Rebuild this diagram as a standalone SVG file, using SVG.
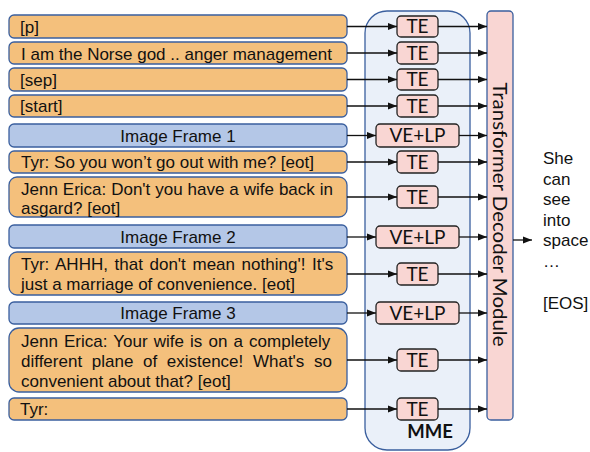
<svg xmlns="http://www.w3.org/2000/svg" width="590" height="452" viewBox="0 0 590 452">
<defs>
<style>
.o{fill:#F4C07C;stroke:#3A5F9E;stroke-width:1.3}
.b{fill:#B4C7E7;stroke:#3A5F9E;stroke-width:1.3}
.e{fill:#F9D6D3;stroke:#222;stroke-width:1.3}
.t{font-family:"Liberation Sans",Arial,sans-serif;font-size:17px;fill:#111}
.c{font-family:Lato,"Open Sans",sans-serif;font-size:19px;fill:#111;text-anchor:middle}
.l{stroke:#111;stroke-width:1.3;fill:none;marker-end:url(#ah)}
</style>
<marker id="ah" markerWidth="9" markerHeight="8" refX="9" refY="4" orient="auto" markerUnits="userSpaceOnUse">
<path d="M0,0.5 L9,4 L0,7.5 Z" fill="#111"/>
</marker>
</defs>
<rect width="590" height="452" fill="#fff"/>

<g id="mme">
<rect x="365" y="11" width="105" height="439" rx="22" fill="#EAF0F9" stroke="#3A5F9E" stroke-width="1.3"/>
<text x="430" y="438" font-family="Lato,'Open Sans',sans-serif" font-weight="bold" font-size="18.5" fill="#111" text-anchor="middle">MME</text>
</g>

<g id="decoder">
<rect x="487" y="11" width="26" height="409" rx="4" fill="#F9D6D3" stroke="#3A5F9E" stroke-width="1.3"/>
<text transform="translate(492.5,214.5) rotate(90)" class="c" style="font-size:20px" textLength="264" lengthAdjust="spacingAndGlyphs">Transformer Decoder Module</text>
</g>

<g id="in1"><rect class="o" x="9" y="15" width="338" height="23" rx="5"/><text class="t" x="20" y="32.5">[p]</text></g>
<g id="in2"><rect class="o" x="9" y="42" width="338" height="22" rx="5"/><text class="t" x="21" y="59.5">I am the Norse god .. anger management</text></g>
<g id="in3"><rect class="o" x="9" y="68" width="338" height="23" rx="5"/><text class="t" x="20" y="85.5">[sep]</text></g>
<g id="in4"><rect class="o" x="9" y="95" width="338" height="22" rx="5"/><text class="t" x="20" y="112">[start]</text></g>
<g id="img1"><rect class="b" x="9" y="124" width="338" height="23" rx="5"/><text class="t" x="178" y="141.5" text-anchor="middle">Image Frame 1</text></g>
<g id="in5"><rect class="o" x="9" y="151" width="338" height="22" rx="5"/><text class="t" x="21" y="168">Tyr: So you won’t go out with me? [eot]</text></g>
<g id="in6"><rect class="o" x="9" y="177" width="338" height="40" rx="8"/><text class="t" x="21" y="194.5" word-spacing="0.2">Jenn Erica: Don't you have a wife back in</text><text class="t" x="21" y="214">asgard? [eot]</text></g>
<g id="img2"><rect class="b" x="9" y="225" width="338" height="23" rx="5"/><text class="t" x="178" y="242.5" text-anchor="middle">Image Frame 2</text></g>
<g id="in7"><rect class="o" x="9" y="252" width="338" height="43" rx="8"/><text class="t" x="21" y="270" word-spacing="1.9">Tyr: AHHH, that don't mean nothing'! It's</text><text class="t" x="21" y="290">just a marriage of convenience. [eot]</text></g>
<g id="img3"><rect class="b" x="9" y="302" width="338" height="22" rx="5"/><text class="t" x="178" y="319" text-anchor="middle">Image Frame 3</text></g>
<g id="in8"><rect class="o" x="9" y="328" width="338" height="64" rx="10"/><text class="t" x="21" y="346.5" word-spacing="1.4">Jenn Erica: Your wife is on a completely</text><text class="t" x="21" y="366.5" word-spacing="4.9">different plane of existence! What's so</text><text class="t" x="21" y="386.5">convenient about that? [eot]</text></g>
<g id="in9"><rect class="o" x="9" y="398" width="338" height="22" rx="5"/><text class="t" x="20" y="415">Tyr:</text></g>

<g id="te1"><rect class="e" x="397" y="16" width="41" height="21" rx="4"/><text class="c" x="417.5" y="33">TE</text></g>
<g id="te2"><rect class="e" x="397" y="42" width="41" height="22" rx="4"/><text class="c" x="417.5" y="59.5">TE</text></g>
<g id="te3"><rect class="e" x="397" y="69" width="41" height="21" rx="4"/><text class="c" x="417.5" y="86">TE</text></g>
<g id="te4"><rect class="e" x="397" y="95" width="41" height="22" rx="4"/><text class="c" x="417.5" y="112.5">TE</text></g>
<g id="ve1"><rect class="e" x="376" y="124" width="83" height="23" rx="4"/><text class="c" x="417.5" y="142">VE+LP</text></g>
<g id="te5"><rect class="e" x="397" y="151" width="41" height="22" rx="4"/><text class="c" x="417.5" y="168.5">TE</text></g>
<g id="te6"><rect class="e" x="397" y="186" width="41" height="22" rx="4"/><text class="c" x="417.5" y="203.5">TE</text></g>
<g id="ve2"><rect class="e" x="376" y="226" width="83" height="22" rx="4"/><text class="c" x="417.5" y="243.5">VE+LP</text></g>
<g id="te7"><rect class="e" x="397" y="263" width="41" height="22" rx="4"/><text class="c" x="417.5" y="280.5">TE</text></g>
<g id="ve3"><rect class="e" x="376" y="302" width="83" height="22" rx="4"/><text class="c" x="417.5" y="319.5">VE+LP</text></g>
<g id="te8"><rect class="e" x="397" y="349" width="41" height="22" rx="4"/><text class="c" x="417.5" y="366.5">TE</text></g>
<g id="te9"><rect class="e" x="397" y="398" width="41" height="22" rx="4"/><text class="c" x="417.5" y="415.5">TE</text></g>

<g id="output">
<text class="t" font-size="15" x="543" y="164">She</text>
<text class="t" font-size="15" x="543" y="184.5">can</text>
<text class="t" font-size="15" x="543" y="205">see</text>
<text class="t" font-size="15" x="543" y="225.5">into</text>
<text class="t" font-size="15" x="543" y="246">space</text>
<text class="t" font-size="15" x="543" y="267">…</text>
<text class="t" font-size="15" x="543" y="309">[EOS]</text>
</g>

<g id="connectors">
<line class="l" x1="347" y1="26.5" x2="397" y2="26.5"/>
<line class="l" x1="347" y1="53" x2="397" y2="53"/>
<line class="l" x1="347" y1="79.5" x2="397" y2="79.5"/>
<line class="l" x1="347" y1="106" x2="397" y2="106"/>
<line class="l" x1="347" y1="135.5" x2="376" y2="135.5"/>
<line class="l" x1="347" y1="162" x2="397" y2="162"/>
<line class="l" x1="347" y1="197" x2="397" y2="197"/>
<line class="l" x1="347" y1="237" x2="376" y2="237"/>
<line class="l" x1="347" y1="274" x2="397" y2="274"/>
<line class="l" x1="347" y1="313" x2="376" y2="313"/>
<line class="l" x1="347" y1="360" x2="397" y2="360"/>
<line class="l" x1="347" y1="409" x2="397" y2="409"/>
<line class="l" x1="438" y1="26.5" x2="487" y2="26.5"/>
<line class="l" x1="438" y1="53" x2="487" y2="53"/>
<line class="l" x1="438" y1="79.5" x2="487" y2="79.5"/>
<line class="l" x1="438" y1="106" x2="487" y2="106"/>
<line class="l" x1="459" y1="135.5" x2="487" y2="135.5"/>
<line class="l" x1="438" y1="162" x2="487" y2="162"/>
<line class="l" x1="438" y1="197" x2="487" y2="197"/>
<line class="l" x1="459" y1="237" x2="487" y2="237"/>
<line class="l" x1="438" y1="274" x2="487" y2="274"/>
<line class="l" x1="459" y1="313" x2="487" y2="313"/>
<line class="l" x1="438" y1="360" x2="487" y2="360"/>
<line class="l" x1="438" y1="409" x2="487" y2="409"/>
<line class="l" x1="513" y1="240" x2="532" y2="240"/>
</g>
</svg>
